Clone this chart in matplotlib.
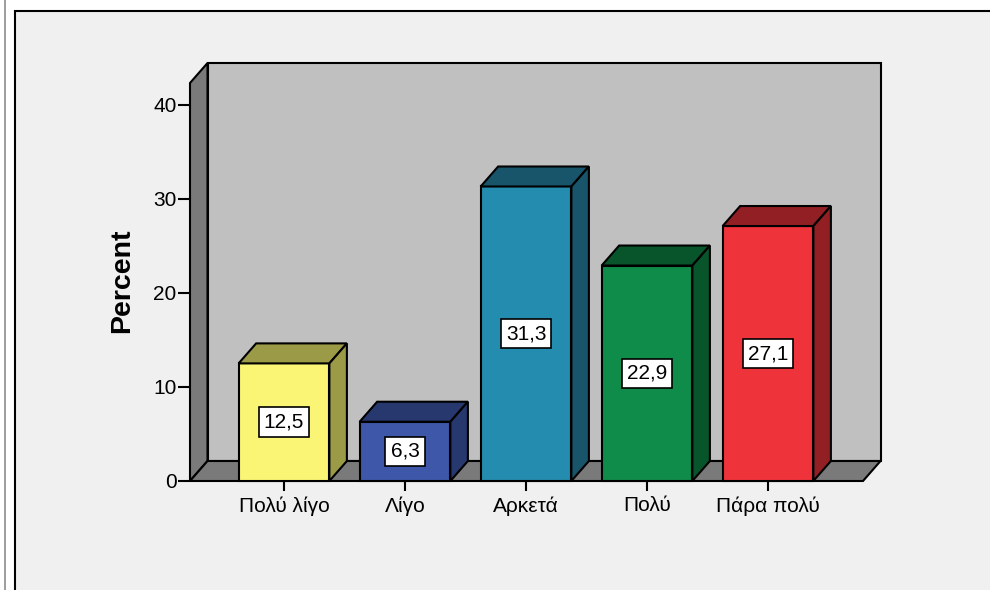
import matplotlib
matplotlib.use("Agg")
import matplotlib.pyplot as plt
from matplotlib.patches import Polygon, Rectangle
from matplotlib.lines import Line2D

# ---- data -------------------------------------------------------------
categories = ["Πολύ λίγο", "Λίγο", "Αρκετά", "Πολύ", "Πάρα πολύ"]
percent = [12.5, 6.3, 31.3, 22.9, 27.1]
value_labels = ["12,5", "6,3", "31,3", "22,9", "27,1"]
y_ticks = [0, 10, 20, 30, 40]

# ---- styling ----------------------------------------------------------
front_colors = ["#FAF574", "#3E57A8", "#248CAE", "#0F8B4A", "#EF333B"]
shade_colors = ["#9B9A47", "#27386F", "#18546A", "#08552B", "#921F24"]
BACK_WALL = "#C0C0C0"
SIDE_WALL = "#7A7A7A"
PANEL_BG = "#F0F0F0"
LW = 1.5

plt.rcParams["font.family"] = ["Liberation Sans", "DejaVu Sans"]

W, H = 990, 590
fig = plt.figure(figsize=(W / 100, H / 100), dpi=100)
fig.patch.set_facecolor("white")

# outer panel frame (behind the axes)
fig.add_artist(Line2D([4.5 / W, 4.5 / W], [0, 1], color="#8C8C8C", lw=1.2,
                      zorder=-2))
fig.add_artist(Rectangle((15 / W, -0.05), 1.2, (H - 11) / H + 0.05,
                         facecolor=PANEL_BG, edgecolor="black", lw=LW,
                         zorder=-2))

# plotting area = front plane of the 3D box
x0, x1 = -0.777, 4.785
ytop = 42.3
ax = fig.add_axes([190 / W, (H - 481) / H, 673 / W, (481 - 83) / H])
ax.set_xlim(x0, x1)
ax.set_ylim(0, ytop)
ax.patch.set_visible(False)
for s in ax.spines.values():
    s.set_visible(False)

# depth offset of the box, in data units
DX = 17.5 / (673 / (x1 - x0))
DY = 20.0 / (398 / ytop)

def poly(pts, fc, z):
    ax.add_patch(Polygon(pts, closed=True, facecolor=fc, edgecolor="black",
                         lw=LW, joinstyle="miter", clip_on=False, zorder=z))

# back wall, left wall, floor
poly([(x0 + DX, DY), (x1 + DX, DY), (x1 + DX, ytop + DY), (x0 + DX, ytop + DY)],
     BACK_WALL, 1)
poly([(x0, 0), (x0 + DX, DY), (x0 + DX, ytop + DY), (x0, ytop)], SIDE_WALL, 1.1)
poly([(x0, 0), (x1, 0), (x1 + DX, DY), (x0 + DX, DY)], SIDE_WALL, 1.1)

# bars: front faces
bw = 0.75
xs = list(range(len(categories)))
ax.bar(xs, percent, width=bw, color=front_colors, edgecolor="black",
       linewidth=LW, zorder=3, clip_on=False)

# bars: top and right-hand faces
for x, v, c in zip(xs, percent, shade_colors):
    l, r = x - bw / 2, x + bw / 2
    poly([(l, v), (r, v), (r + DX, v + DY), (l + DX, v + DY)], c, 3)
    poly([(r, 0), (r + DX, DY), (r + DX, v + DY), (r, v)], c, 3)

# value labels
for x, v, t in zip(xs, percent, value_labels):
    ax.text(x, v / 2, t, ha="center", va="center", fontsize=15, zorder=5,
            bbox=dict(boxstyle="square,pad=0.25", facecolor="white",
                      edgecolor="black", lw=1.2))

# axes ticks and labels
ax.set_yticks(y_ticks)
ax.tick_params(axis="y", length=8.6, width=LW, pad=1, labelsize=15)
ax.set_xticks(xs, categories)
ax.tick_params(axis="x", length=7, width=LW, pad=4, labelsize=15)

ax.text((122 - 190) / 673, (481 - 281) / 398, "Percent", rotation=90,
        transform=ax.transAxes, ha="center", va="center",
        fontsize=20.5, fontweight="bold")

fig.savefig("out.png", dpi=100)
